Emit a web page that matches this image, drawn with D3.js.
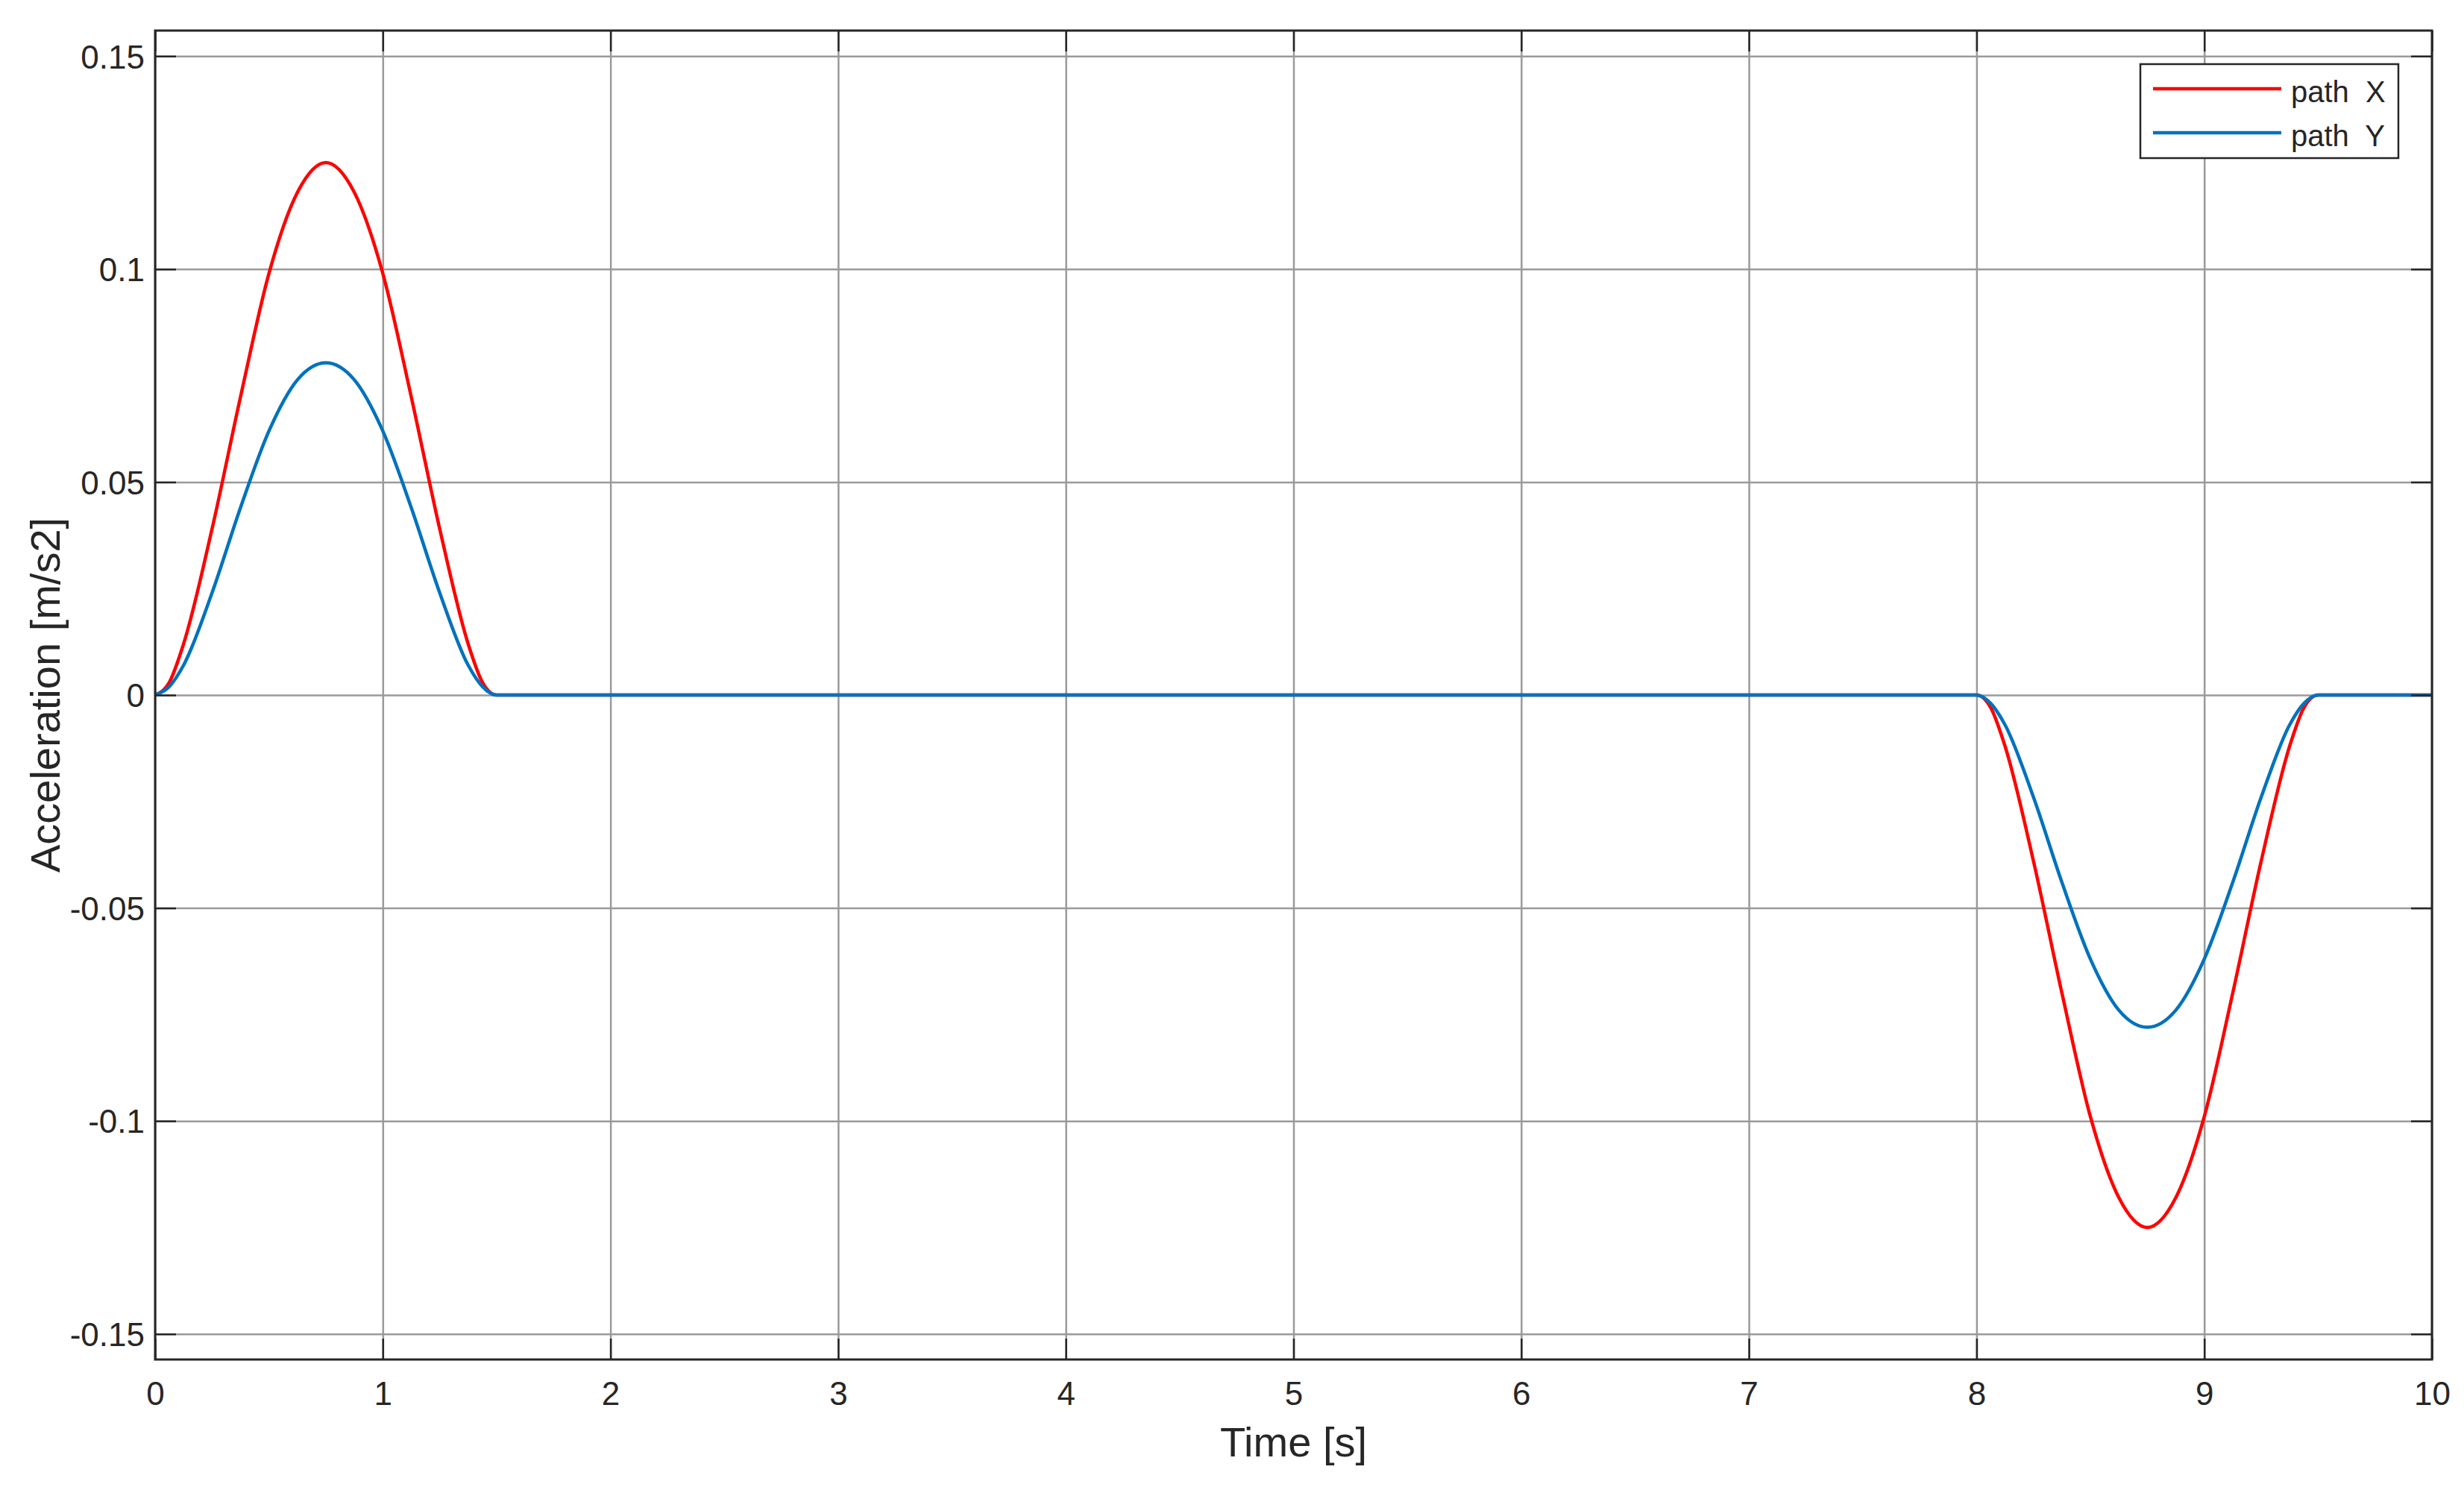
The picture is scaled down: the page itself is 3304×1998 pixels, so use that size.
<!DOCTYPE html>
<html>
<head>
<meta charset="utf-8">
<script src="https://cdn.jsdelivr.net/npm/d3@7"></script>
<style>
  body { margin: 0; background: #fff; }
  text { font-family: "Liberation Sans", Arial, sans-serif; fill: #262626; }
</style>
</head>
<body>
<div id="chart"></div>
<script>
// acceleration profiles (s, m/s2)
const timeS = [0, 0.0625, 0.125, 0.25, 0.375, 0.5, 0.625, 0.75, 0.875, 1, 1.125, 1.25, 1.375, 1.4375, 1.5,
  8, 8.0625, 8.125, 8.25, 8.375, 8.5, 8.625, 8.75, 8.875, 9, 9.125, 9.25, 9.375, 9.4375, 9.5, 10];
const pathX = [0, 0.003, 0.012, 0.039, 0.070, 0.099, 0.118, 0.125, 0.118, 0.099, 0.070, 0.039, 0.012, 0.003, 0,
  0, -0.003, -0.012, -0.039, -0.070, -0.099, -0.118, -0.125, -0.118, -0.099, -0.070, -0.039, -0.012, -0.003, 0, 0];
const pathY = [0, 0.002, 0.007, 0.024, 0.044, 0.062, 0.074, 0.078, 0.074, 0.062, 0.044, 0.024, 0.007, 0.002, 0,
  0, -0.002, -0.007, -0.024, -0.044, -0.062, -0.074, -0.078, -0.074, -0.062, -0.044, -0.024, -0.007, -0.002, 0, 0];

const seriesNames = ["path  X", "path  Y"];
const seriesColors = ["#ff0000", "#0072bd"];

const xTicks = [0, 1, 2, 3, 4, 5, 6, 7, 8, 9, 10];
const yTicks = [0.15, 0.1, 0.05, 0, -0.05, -0.1, -0.15];
const yTickLabels = ["0.15", "0.1", "0.05", "0", "-0.05", "-0.1", "-0.15"];

const W = 3304, H = 1998;
const margin = { top: 41, right: 43, bottom: 175, left: 208 };
const width = W - margin.left - margin.right;
const height = H - margin.top - margin.bottom;

const svg = d3.select("#chart").append("svg")
  .attr("width", W)
  .attr("height", H);

const g = svg.append("g")
  .attr("transform", "translate(" + margin.left + "," + margin.top + ")");

const x = d3.scaleLinear().domain([0, 10]).range([0, width]);
const y = d3.scaleLinear().domain([-0.156, 0.156]).range([height, 0]);

// grid
const gridX = g.append("g")
  .attr("transform", "translate(0," + height + ")")
  .call(d3.axisBottom(x).tickValues(xTicks).tickSize(-height).tickFormat(""));
const gridY = g.append("g")
  .call(d3.axisLeft(y).tickValues(yTicks).tickSize(-width).tickFormat(""));
[gridX, gridY].forEach(a => {
  a.select(".domain").remove();
  a.selectAll("line").attr("stroke", "#9a9a9a").attr("stroke-width", 2.5);
});

// curves
g.append("clipPath").attr("id", "clip")
  .append("rect").attr("width", width).attr("height", height);

const line = d3.line()
  .x(d => x(d[0]))
  .y(d => y(d[1]))
  .curve(d3.curveMonotoneX);

[pathX, pathY].forEach((vals, i) => {
  g.append("path")
    .datum(timeS.map((t, j) => [t, vals[j]]))
    .attr("clip-path", "url(#clip)")
    .attr("fill", "none")
    .attr("stroke", seriesColors[i])
    .attr("stroke-width", 4.5)
    .attr("stroke-linejoin", "round")
    .attr("d", line);
});

// axes with inward ticks, like MATLAB
const tickLen = 28;
const xAxis = g.append("g")
  .attr("transform", "translate(0," + height + ")")
  .call(d3.axisBottom(x).tickValues(xTicks).tickSizeInner(-tickLen).tickSizeOuter(0).tickPadding(30));
const yAxis = g.append("g")
  .call(d3.axisLeft(y).tickValues(yTicks).tickSizeInner(-tickLen).tickSizeOuter(0).tickPadding(14)
    .tickFormat((d, i) => yTickLabels[i]));
const xTop = g.append("g")
  .call(d3.axisTop(x).tickValues(xTicks).tickSizeInner(-tickLen).tickSizeOuter(0).tickFormat(""));
const yRight = g.append("g")
  .attr("transform", "translate(" + width + ",0)")
  .call(d3.axisRight(y).tickValues(yTicks).tickSizeInner(-tickLen).tickSizeOuter(0).tickFormat(""));

[xAxis, yAxis, xTop, yRight].forEach(a => {
  a.select(".domain").remove();
  a.selectAll("line").attr("stroke", "#262626").attr("stroke-width", 2.5);
  a.selectAll("text")
    .style("font-family", '"Liberation Sans", Arial, sans-serif')
    .style("font-size", "44px")
    .attr("fill", "#262626");
});
xAxis.selectAll("text").attr("dy", "0.71em");
yAxis.selectAll("text").attr("dy", "0.36em");

g.append("rect")
  .attr("width", width)
  .attr("height", height)
  .attr("fill", "none")
  .attr("stroke", "#262626")
  .attr("stroke-width", 3);

// axis labels
svg.append("text")
  .attr("x", margin.left + width / 2)
  .attr("y", 1953)
  .attr("text-anchor", "middle")
  .style("font-size", "56px")
  .text("Time [s]");

svg.append("text")
  .attr("transform", "translate(80," + (margin.top + height / 2) + ") rotate(-90)")
  .attr("text-anchor", "middle")
  .style("font-size", "56px")
  .text("Acceleration [m/s2]");

// legend
const legend = svg.append("g").attr("transform", "translate(2870,86)");
legend.append("rect")
  .attr("width", 346)
  .attr("height", 126)
  .attr("fill", "#fff")
  .attr("stroke", "#262626")
  .attr("stroke-width", 2.5);

seriesNames.forEach((name, i) => {
  const ly = 33 + i * 59;
  legend.append("line")
    .attr("x1", 17).attr("x2", 189)
    .attr("y1", ly).attr("y2", ly)
    .attr("stroke", seriesColors[i])
    .attr("stroke-width", 4.5);
  legend.append("text")
    .attr("x", 202)
    .attr("y", ly + 18)
    .style("font-size", "40px")
    .style("white-space", "pre")
    .attr("xml:space", "preserve")
    .text(name);
});
</script>
</body>
</html>
